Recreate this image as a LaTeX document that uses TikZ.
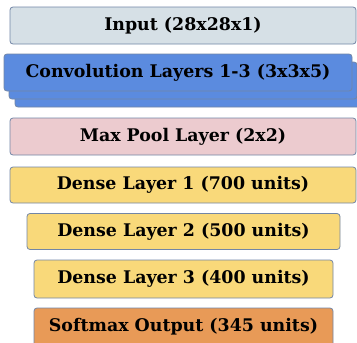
\documentclass[tikz,border=0pt]{standalone}
\usepackage{fontspec}
\setmainfont{DejaVu Serif}
\usepackage{xcolor}
\usetikzlibrary{positioning, calc}

\definecolor{edgeC}{HTML}{7286A6}
\definecolor{inputC}{HTML}{D6E0E6}
\definecolor{convC}{HTML}{5B8BDF}
\definecolor{poolC}{HTML}{ECCBCF}
\definecolor{denseC}{HTML}{F9D97A}
\definecolor{outC}{HTML}{E89A57}

\begin{document}
\begin{tikzpicture}[x=1pt, y=-1pt,
  layer/.style={draw=edgeC, line width=0.8pt, rounded corners=3pt,
                inner sep=0pt, minimum height=37pt,
                font=\fontsize{17.4}{20}\selectfont\bfseries},
  wide/.style={layer, minimum width=346pt},
  narrow/.style={layer, minimum width=299pt}]
\useasboundingbox (0,0) rectangle (357,343);

\node[wide, fill=inputC] (input) at (183,25.5) {Input (28x28x1)};

% stacked conv layers, back to front
\node[layer, fill=convC, minimum width=348pt] (conv3) at (189,88.5) {};
\node[layer, fill=convC, minimum width=348pt] (conv2) at (183,80.5) {};
\node[layer, fill=convC, minimum width=348pt] (conv) at (178,72.5)
  {Convolution Layers 1-3 (3x3x5)};

\node[wide, fill=poolC] (pool) at (183,136.5) {Max Pool Layer (2x2)};
\node[wide, fill=denseC, minimum height=36pt] (dense1) at (183,185)
  {Dense Layer 1 (700 units)};
\node[layer, fill=denseC, minimum width=313pt, minimum height=36pt] (dense2)
  at (183.5,231.5) {Dense Layer 2 (500 units)};
\node[narrow, fill=denseC, minimum height=38pt] (dense3) at (183.5,279)
  {Dense Layer 3 (400 units)};
\node[narrow, fill=outC, minimum height=38pt] (out) at (183.5,327)
  {Softmax Output (345 units)};
\end{tikzpicture}
\end{document}
